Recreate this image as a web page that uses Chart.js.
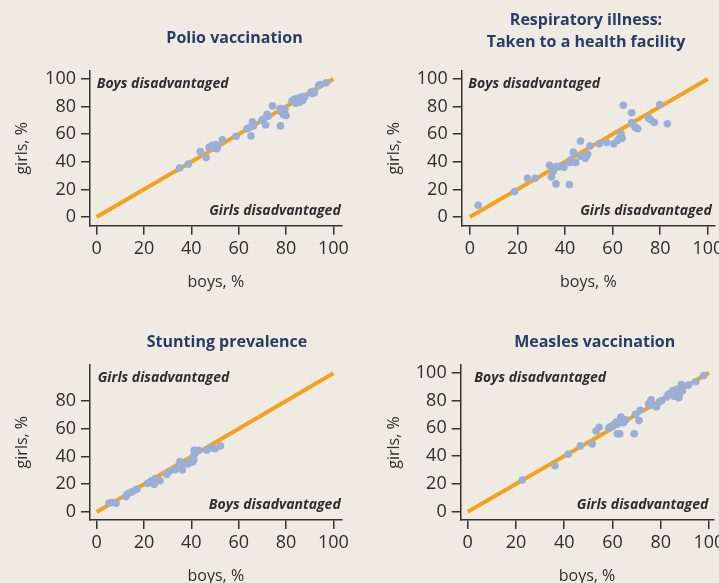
<!DOCTYPE html>
<html>
<head>
<title>Boys and girls</title>
<script src="https://cdn.jsdelivr.net/npm/chart.js"></script>
<style>
    body { margin: 0; width: 719px; height: 583px; overflow: hidden; position: relative; background: #EFEBE2; }
    canvas { position: absolute; }
</style>
</head>
<body>
<canvas id="polio" width="360" height="300" style="left:0;top:0"></canvas>
<canvas id="resp" width="359" height="300" style="left:360px;top:0"></canvas>
<canvas id="stunt" width="360" height="300" style="left:0;top:300px"></canvas>
<canvas id="measles" width="359" height="300" style="left:360px;top:300px"></canvas>

<script>
// tick values
const xTicks = [0, 20, 40, 60, 80, 100];
const yTicks = [0, 20, 40, 60, 80, 100];
const yTicksStunting = [0, 20, 40, 60, 80];

// equality line, boys % = girls %
const equalLine = [[0, 0], [100, 100]];

// [boys %, girls %] per country
const polio = [
    [35, 35.5], [38.7, 38.3], [43.8, 47.5], [46.2, 43.2], [47.5, 50.5], [48.5, 51.5], [49.5, 50],
    [50.2, 52.5], [50.8, 49.5], [51, 51.2], [49, 52], [53.1, 56], [58.9, 58.5], [63.5, 64],
    [64.5, 64.8], [65.2, 58.7], [65.8, 69], [66.2, 66], [66, 67.5], [69.8, 70], [70.5, 71],
    [71.4, 66.7], [72, 74.5], [72.5, 73], [74.3, 80.5], [77.6, 66], [78, 76], [78.6, 77.5],
    [79, 74], [79.5, 78], [80, 73.5], [77.5, 78.5], [82.5, 84], [83.5, 85.5], [84, 82.5],
    [84.5, 84], [85, 86], [85.5, 83], [86, 85], [86.5, 87], [87, 84.5], [87.5, 86.5], [88, 87.5],
    [85.5, 85.5], [90.5, 90.5], [91, 89.5], [91.5, 91], [92, 90], [93.8, 95.5], [94.5, 96], [97, 97.3]
];

const respiratory = [
    [3.5, 8.5], [18.8, 18.5], [24.2, 28], [27.5, 28], [33.5, 37.5], [34.3, 29], [35, 33], [35.5, 35.5],
    [36.2, 24], [36.5, 36.5], [37.5, 36.5], [39, 37], [39.5, 36], [41.8, 23.5], [42, 39.5],
    [42.5, 41.5], [43, 40], [43.5, 47], [44.5, 39.5], [46.5, 55], [46.5, 44], [48.5, 42.5],
    [49, 44.5], [49.5, 45.5], [50.5, 51.5], [54.5, 53], [57.5, 54], [60.5, 53], [62, 55.5],
    [63, 57.5], [63.5, 60.5], [64, 57], [64.5, 81], [68, 75.5], [68, 68.5], [68.5, 67], [69.5, 65],
    [70.5, 64], [75, 72], [76, 70.5], [77.5, 68.5], [79.8, 81.5], [83, 67.5]
];

const stunting = [
    [5.2, 6.5], [6.5, 6.8], [8.2, 6.2], [12.3, 11], [12.8, 12.5], [13.5, 13.5], [15, 14.5], [16.5, 16],
    [17, 16.5], [21.5, 20.5], [22.5, 21.5], [23.2, 22.5], [24.3, 19.8], [24.9, 24], [25.5, 22.5],
    [26.8, 22.5], [29.6, 27], [30.5, 29], [33, 30.5], [34.5, 32], [35.2, 36.3], [35.5, 34],
    [36.2, 30.3], [37.3, 35], [38.5, 34.5], [39.5, 36.3], [40.5, 36], [41, 37.5], [40.8, 40],
    [41.5, 42], [41.2, 44.5], [42, 44], [43, 44.5], [46.5, 44.5], [48, 46], [50, 45.5], [52.3, 47.5]
];

const measles = [
    [22.6, 22.8], [36.2, 33], [41.7, 41.3], [46.7, 47.3], [51.6, 48.7], [53.2, 58], [54.5, 60.7],
    [58.5, 60], [59, 61], [60.5, 62.5], [61.5, 64.5], [62, 63], [62, 56], [63, 56], [63.5, 68],
    [63, 65], [64.5, 64], [65.5, 66], [69, 56], [69.5, 70], [71, 65.5], [71.5, 73], [75, 77.5],
    [75.5, 78.5], [76, 80.5], [76, 76.5], [78.3, 75.5], [79.5, 79], [80.5, 80], [82.5, 82.5],
    [83, 84], [84, 85], [85, 87], [85.5, 83], [86, 84.5], [86.5, 88], [87, 86], [87.5, 82],
    [88, 85.5], [88.5, 91.5], [89, 87], [91.5, 91], [94.5, 93.5], [97.8, 98]
];

const ink = '#2E2E2E';
const font = "'Open Sans', sans-serif";

// panel titles and the two corner notes
const panelText = {
    id: 'panelText',
    afterDraw(chart, args, o) {
        const ctx = chart.ctx;
        ctx.save();
        ctx.textBaseline = 'alphabetic';
        ctx.fillStyle = '#2B3B66';
        ctx.font = 'bold 16px ' + font;
        ctx.textAlign = 'center';
        o.title.forEach((t, i) => ctx.fillText(t, o.titleX, o.titleY[i]));
        ctx.fillStyle = ink;
        ctx.font = 'italic bold 14px ' + font;
        ctx.textAlign = 'left';
        ctx.fillText(o.topText, o.topX, o.topY);
        ctx.textAlign = 'right';
        ctx.fillText(o.bottomText, o.bottomX, o.bottomY);
        ctx.restore();
    }
};

function axis(min, max, ticks, label, size, titlePad, tickPad) {
    return {
        type: 'linear',
        min: min,
        max: max,
        afterBuildTicks: s => { s.ticks = ticks.map(v => ({ value: v })); },
        afterFit: s => {
            if (s.isHorizontal()) { s.height = size; s.paddingLeft = 0; s.paddingRight = 0; }
            else { s.width = size; s.paddingTop = 0; s.paddingBottom = 0; }
        },
        border: { display: true, color: '#333', width: 1.5 },
        grid: { drawOnChartArea: false, drawTicks: true, tickLength: 9, color: '#333', lineWidth: 1.5 },
        ticks: { padding: tickPad, color: ink, autoSkip: false, maxRotation: 0,
                 callback: v => v, font: { family: font, size: 18 } },
        title: { display: true, text: label, color: ink, padding: titlePad,
                 font: { family: font, size: 16 } }
    };
}

function toXY(rows) {
    return rows.map(r => ({ x: r[0], y: r[1] }));
}

function makePanel(id, rows, p) {
    return new Chart(document.getElementById(id), {
        type: 'scatter',
        data: {
            datasets: [{
                data: toXY(rows),
                backgroundColor: '#9AAFD6',
                pointRadius: 3.8,
                pointBorderWidth: 0,
                order: 1
            }, {
                data: toXY(equalLine),
                showLine: true,
                borderColor: '#F3A21F',
                borderWidth: 4,
                pointRadius: 0,
                order: 2
            }]
        },
        options: {
            responsive: false,
            animation: false,
            devicePixelRatio: 1,
            layout: { padding: p.pad },
            plugins: {
                legend: { display: false },
                tooltip: { enabled: false },
                panelText: p.text
            },
            scales: {
                x: axis(p.x[0], p.x[1], xTicks, 'boys, %', 66, { top: 0, bottom: 0 }, 3),
                y: axis(p.y[0], p.y[1], p.yTicks || yTicks, 'girls, %', 82, { top: p.yTitlePad, bottom: 0 }, 5)
            }
        },
        plugins: [panelText]
    });
}

makePanel('polio', polio, {
    pad: { top: 71, left: 8, right: 18.3, bottom: 8.3 },
    x: [-2.8, 103.5], y: [-6.3, 105.8], yTitlePad: 5,
    text: { title: ['Polio vaccination'], titleX: 234.5, titleY: [42.7],
            topText: 'Boys disadvantaged', topX: 96.7, topY: 88.3,
            bottomText: 'Girls disadvantaged', bottomX: 340.7, bottomY: 215 }
});

makePanel('resp', respiratory, {
    pad: { top: 71, left: 19.7, right: 0, bottom: 8.3 },
    x: [-3.4, 103.0], y: [-6.3, 105.8], yTitlePad: 4.7,
    text: { title: ['Respiratory illness:', 'Taken to a health facility'], titleX: 226, titleY: [25, 46.7],
            topText: 'Boys disadvantaged', topX: 108.3, topY: 88.3,
            bottomText: 'Girls disadvantaged', bottomX: 351.7, bottomY: 215 }
});

makePanel('stunt', stunting, {
    pad: { top: 64.3, left: 8, right: 18.3, bottom: 14 },
    x: [-2.8, 103.5], y: [-5.8, 106.4], yTicks: yTicksStunting, yTitlePad: 5,
    text: { title: ['Stunting prevalence'], titleX: 227, titleY: [46.7],
            topText: 'Girls disadvantaged', topX: 97.7, topY: 81.7,
            bottomText: 'Boys disadvantaged', bottomX: 340.7, bottomY: 209.3 }
});

makePanel('measles', measles, {
    pad: { top: 65, left: 18.7, right: 5.7, bottom: 14 },
    x: [-2.9, 101.8], y: [-6.0, 105.5], yTitlePad: 5.7,
    text: { title: ['Measles vaccination'], titleX: 234.7, titleY: [46.7],
            topText: 'Boys disadvantaged', topX: 114.3, topY: 82.3,
            bottomText: 'Girls disadvantaged', bottomX: 348.3, bottomY: 209.3 }
});
</script>
</body>
</html>
